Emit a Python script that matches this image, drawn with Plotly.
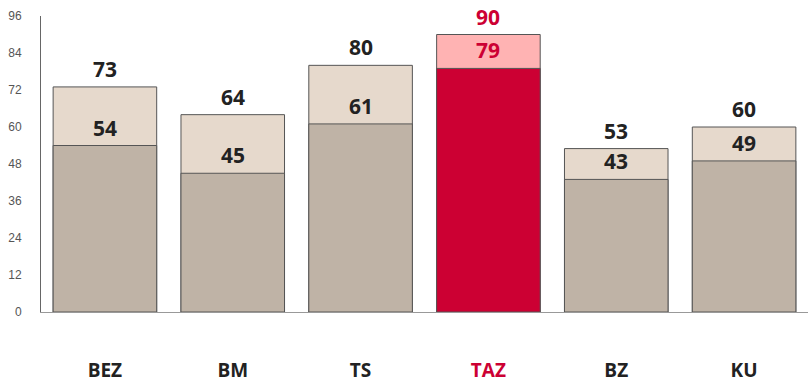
import plotly.graph_objects as go

# Categories and values
categories = ["BEZ", "BM", "TS", "TAZ", "BZ", "KU"]
totals = [73, 64, 80, 90, 53, 60]
inner = [54, 45, 61, 79, 43, 49]
y_ticks = [0, 12, 24, 36, 48, 60, 72, 84, 96]

highlight = "TAZ"
base_outer, base_inner = "#E6D9CC", "#BFB3A6"
hi_outer, hi_inner = "#FFB3B3", "#CC0033"
label_dark, label_hi = "#222222", "#CC0033"

outer_colors = [hi_outer if c == highlight else base_outer for c in categories]
inner_colors = [hi_inner if c == highlight else base_inner for c in categories]
text_colors = [label_hi if c == highlight else label_dark for c in categories]

fig = go.Figure()
fig.add_trace(go.Bar(x=categories, y=totals, marker=dict(color=outer_colors,
                     line=dict(color="#555555", width=1)), hoverinfo="skip"))
fig.add_trace(go.Bar(x=categories, y=inner, marker=dict(color=inner_colors,
                     line=dict(color="#555555", width=1)), hoverinfo="skip"))

# value labels above each bar segment
for c, t, i, col in zip(categories, totals, inner, text_colors):
    for v in (t, i):
        fig.add_annotation(x=c, y=v, text=f"<b>{v}</b>", showarrow=False,
                           yanchor="bottom", yshift=2,
                           font=dict(family="Open Sans", size=21, color=col))

tick_text = [f'<span style="color:{label_hi}"><b>{c}</b></span>' if c == highlight
             else f"<b>{c}</b>" for c in categories]

fig.update_layout(
    barmode="overlay",
    bargap=0.19,
    width=810, height=382,
    margin=dict(l=41, r=2, t=16, b=70),
    plot_bgcolor="white", paper_bgcolor="white",
    showlegend=False,
)
fig.update_xaxes(tickvals=categories, ticktext=tick_text, automargin=False,
                 tickfont=dict(family="Open Sans", size=19, color=label_dark),
                 ticklabelstandoff=41, showline=True, linecolor="#999999",
                 linewidth=1, ticks="", showgrid=False)
fig.update_yaxes(range=[0, 96], tickvals=y_ticks, showgrid=False, zeroline=False,
                 automargin=False,
                 showline=True, linecolor="#666666", linewidth=1, ticks="",
                 ticklabelstandoff=16,
                 tickfont=dict(family="Liberation Sans", size=12, color="#555555"))

fig.write_html("out.html")
